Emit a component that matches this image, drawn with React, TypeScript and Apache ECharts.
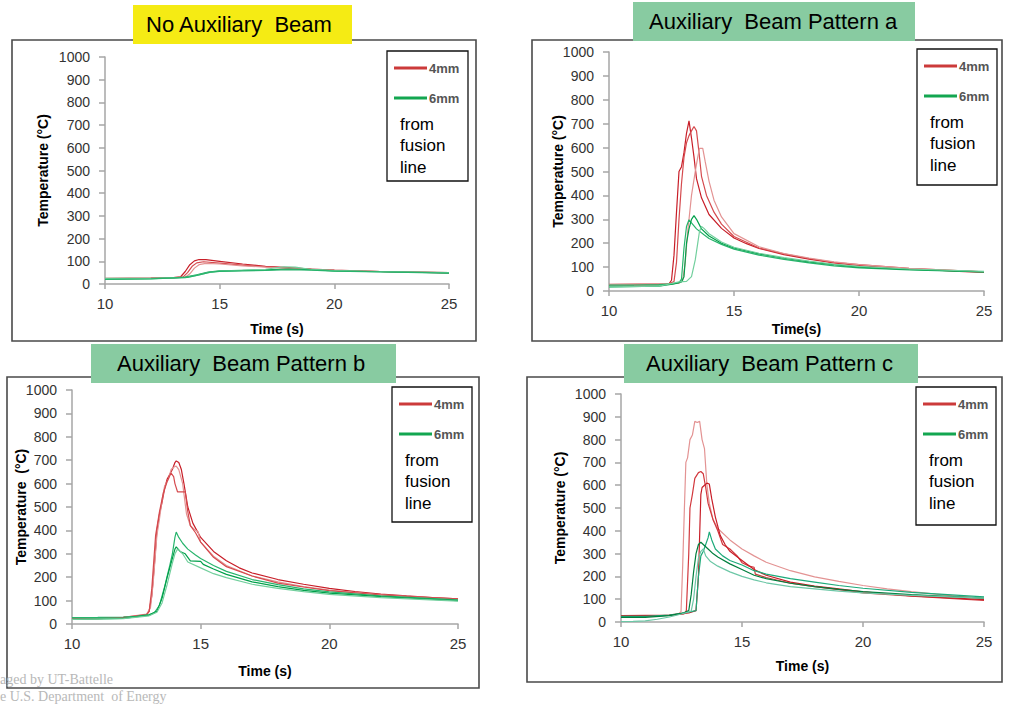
import React, { useEffect, useRef } from "react";
import * as echarts from "echarts";

// ---------- Data: [time (s), temperature (°C)] ----------
// Panel 1: No Auxiliary Beam
const noAux4mmA = [[10,24],[11,25],[12,26],[13,28],[13.3,32],[13.5,55],[13.7,85],[13.9,102],[14.1,108],[14.4,107],[15,100],[16,88],[17,78],[18,72],[19,66],[20,61],[21,58],[22,55],[23,53],[24,51],[25,49]];
const noAux4mmB = [[10,25],[12,26],[13,28],[13.4,30],[13.6,50],[13.8,78],[14.0,93],[14.3,98],[15,92],[16,83],[17,76],[18,70],[19,65],[20,60],[22,55],[25,50]];
const noAux4mmC = [[10,23],[12,25],[13,28],[13.5,30],[13.7,45],[13.9,70],[14.1,85],[14.4,91],[15,88],[16,80],[17,74],[18,69],[19,64],[20,60],[22,55],[25,50]];
const noAux6mmA = [[10,22],[12,24],[13,27],[13.5,30],[14,40],[14.5,52],[15,58],[16,60],[17,62],[18,66],[19,63],[20,58],[22,54],[25,49]];
const noAux6mmB = [[10,25],[12,25],[13.5,28],[14,38],[14.5,50],[15,57],[16,60],[17,65],[17.8,76],[18.3,74],[19,64],[20,59],[22,55],[25,50]];
const noAux6mmC = [[10,20],[12,23],[13.6,29],[14.1,40],[14.6,52],[15,56],[16,58],[17,60],[18,63],[19,61],[20,57],[22,53],[25,48]];

// Panel 2: Auxiliary Beam Pattern a
const patA4mmA = [[10,26],[11,26],[12,27],[12.4,30],[12.5,45],[12.6,150],[12.7,330],[12.8,500],[12.9,520],[13.0,580],[13.1,660],[13.2,712],[13.3,640],[13.4,560],[13.5,470],[13.7,390],[14,320],[14.5,262],[15,222],[15.5,198],[16,178],[17,152],[18,133],[19,118],[20,107],[21,99],[22,93],[23,88],[24,82],[25,78]];
const patA4mmB = [[10,28],[12.4,30],[12.6,40],[12.7,120],[12.8,300],[12.9,450],[13.0,560],[13.1,620],[13.2,650],[13.3,670],[13.4,688],[13.5,670],[13.6,580],[13.7,480],[13.9,400],[14.2,330],[14.5,280],[15,228],[16,180],[17,155],[18,136],[19,120],[20,110],[22,95],[25,80]];
const patA4mmC = [[10,27],[12.8,32],[12.95,45],[13.05,120],[13.15,250],[13.3,400],[13.45,500],[13.55,560],[13.62,597],[13.75,597],[13.85,540],[14.0,460],[14.2,380],[14.5,310],[15,240],[16,185],[17,157],[18,138],[19,122],[20,110],[22,95],[25,80]];
const patA6mmA = [[10,25],[11,25],[12,27],[12.5,30],[12.8,35],[12.9,50],[13.0,180],[13.1,270],[13.2,298],[13.3,285],[13.5,260],[13.8,235],[14,220],[14.5,195],[15,175],[16,150],[17,132],[18,118],[19,105],[20,97],[22,88],[25,80]];
const patA6mmB = [[10,17],[12,20],[12.6,30],[12.9,38],[13.0,60],[13.1,200],[13.2,260],[13.3,300],[13.4,315],[13.5,300],[13.7,260],[14,230],[14.5,200],[15,180],[16,155],[17,137],[18,122],[19,110],[20,100],[22,90],[25,80]];
const patA6mmC = [[10,17],[12,20],[12.8,38],[13.1,40],[13.3,60],[13.45,130],[13.55,200],[13.62,250],[13.7,270],[13.8,262],[14,240],[14.5,205],[15,183],[16,158],[17,140],[18,125],[19,112],[20,103],[22,92],[25,82]];

// Panel 3: Auxiliary Beam Pattern b
const patB4mmA = [[10,22],[11,23],[11.5,25],[12,28],[12.5,32],[12.9,40],[13.0,55],[13.1,120],[13.2,250],[13.3,400],[13.4,470],[13.5,520],[13.6,580],[13.7,620],[13.8,640],[13.9,660],[14.0,690],[14.05,697],[14.15,690],[14.25,660],[14.35,600],[14.5,500],[14.7,430],[15,370],[15.5,310],[16,270],[16.5,240],[17,218],[18,190],[19,170],[20,152],[21,138],[22,128],[23,120],[24,113],[25,108]];
const patB4mmB = [[10,25],[12,28],[12.9,42],[13.05,70],[13.15,170],[13.3,380],[13.4,450],[13.5,530],[13.6,590],[13.75,620],[13.85,660],[13.95,670],[14.05,675],[14.15,660],[14.3,600],[14.45,470],[14.6,420],[14.8,400],[14.9,395],[15,350],[15.5,290],[16,250],[17,205],[18,180],[19,160],[20,145],[22,125],[25,105]];
const patB4mmC = [[10,25],[12,28],[12.9,40],[13.0,55],[13.1,150],[13.25,380],[13.4,480],[13.55,560],[13.7,610],[13.85,645],[13.95,630],[14.0,600],[14.1,565],[14.4,565],[14.5,480],[14.6,420],[14.8,390],[15,350],[15.5,285],[16,245],[17,205],[18,175],[19,158],[20,143],[22,124],[25,108]];
const patB6mmA = [[10,27],[11,28],[12,30],[12.5,33],[13,40],[13.2,48],[13.4,80],[13.6,160],[13.8,250],[13.9,300],[14.0,370],[14.05,393],[14.15,370],[14.3,345],[14.5,320],[14.8,295],[15,280],[15.5,250],[16,225],[17,190],[18,168],[19,150],[20,137],[22,120],[25,103]];
const patB6mmB = [[10,20],[12,24],[13,38],[13.3,55],[13.5,110],[13.7,200],[13.9,280],[14.0,320],[14.05,330],[14.2,310],[14.4,300],[14.6,270],[15,268],[15.1,255],[15.5,235],[16,212],[17,180],[18,160],[19,144],[20,132],[22,117],[25,100]];
const patB6mmC = [[10,20],[12,23],[13,35],[13.3,50],[13.5,90],[13.7,170],[13.9,260],[14.0,300],[14.1,320],[14.3,300],[14.5,265],[15,240],[15.5,215],[16,198],[17,170],[18,152],[19,138],[20,127],[22,113],[25,98]];

// Panel 4: Auxiliary Beam Pattern c
const patC4mmA = [[10,22],[11,23],[12,30],[12.4,38],[12.48,45],[12.55,250],[12.62,500],[12.68,700],[12.75,720],[12.85,800],[12.95,820],[13.05,880],[13.15,875],[13.25,880],[13.35,800],[13.45,760],[13.55,600],[13.65,520],[13.8,450],[14,410],[14.5,360],[15,320],[15.5,290],[16,262],[17,225],[18,198],[19,178],[20,160],[21,145],[22,133],[23,122],[24,112],[25,103]];
const patC4mmB = [[10,28],[12,30],[12.6,35],[12.7,50],[12.8,300],[12.85,500],[12.95,560],[13.05,630],[13.2,655],[13.3,660],[13.4,650],[13.5,590],[13.6,520],[13.8,450],[14,400],[14.2,340],[14.5,320],[14.8,290],[15,260],[15.3,245],[15.5,240],[15.55,210],[16,195],[17,170],[18,155],[19,142],[20,128],[22,113],[25,95]];
const patC4mmC = [[10,26],[12,29],[12.8,40],[13.1,50],[13.2,200],[13.3,560],[13.35,590],[13.45,600],[13.55,609],[13.65,605],[13.75,540],[13.9,460],[14.1,380],[14.3,340],[14.5,310],[15,270],[15.5,230],[16,205],[17,175],[18,158],[19,145],[20,132],[22,115],[25,98]];
const patC6mmA = [[10,25],[11,25],[12,30],[12.5,38],[13.0,48],[13.1,50],[13.2,200],[13.3,290],[13.4,310],[13.5,340],[13.6,370],[13.65,395],[13.75,360],[13.9,320],[14.2,290],[14.5,270],[15,250],[15.5,225],[16,210],[17,190],[18,175],[19,160],[20,148],[22,130],[25,110]];
const patC6mmB = [[10,20],[11,20],[12,28],[12.6,40],[12.8,50],[12.9,120],[13.0,220],[13.1,300],[13.2,340],[13.3,350],[13.4,340],[13.6,320],[13.8,300],[14,285],[14.5,255],[15,230],[15.5,205],[16,190],[17,170],[18,155],[19,143],[20,133],[22,120],[25,105]];
const patC6mmC = [[10,2],[10.5,3],[11,5],[11.5,12],[12,22],[12.5,35],[12.9,48],[13.0,100],[13.1,200],[13.2,280],[13.3,310],[13.4,320],[13.5,290],[13.7,265],[14,245],[14.5,220],[15,200],[15.5,185],[16,172],[17,155],[18,145],[19,135],[20,128],[22,117],[25,105]];

const xTicks = { min: 10, max: 25, interval: 5 };
const yTicks = { min: 0, max: 1000, interval: 100 };
const panelTitles = ["No Auxiliary  Beam", "Auxiliary  Beam Pattern a", "Auxiliary  Beam Pattern b", "Auxiliary  Beam Pattern c"];
const xNames = ["Time (s)", "Time(s)", "Time (s)", "Time (s)"];
const yNames = ["Temperature (°C)", "Temperature (°C)", "Temperature  (°C)", "Temperature (°C)"];
const legendLabels = ["4mm", "6mm"];
const legendNote = ["from", "fusion", "line"];

const FONT = "'Liberation Sans', Arial, sans-serif";

// layout
const grids = [
  { left: 105, top: 57, width: 344, height: 227 },
  { left: 609, top: 52, width: 375, height: 239 },
  { left: 72, top: 390, width: 386, height: 234 },
  { left: 621, top: 394, width: 363, height: 228 },
];
const frames = [
  { x: 12, y: 40, w: 464, h: 301 },
  { x: 532, y: 40, w: 470, h: 301 },
  { x: 7, y: 377, w: 472, h: 311 },
  { x: 527, y: 377, w: 475, h: 305 },
];
const titleBoxes = [
  { x: 133, y: 5, w: 219, h: 39, fill: "#F5EB14", tx: 146 },
  { x: 633, y: 2, w: 282, h: 39, fill: "#88CBA1", tx: 649 },
  { x: 91, y: 344, w: 305, h: 39, fill: "#88CBA1", tx: 117 },
  { x: 624, y: 344, w: 294, h: 39, fill: "#88CBA1", tx: 646 },
];
const legendBoxes = [
  { x: 387, y: 51, w: 81, h: 130 },
  { x: 917, y: 49, w: 80, h: 136 },
  { x: 392, y: 387, w: 80, h: 135 },
  { x: 916, y: 387, w: 80, h: 138 },
];
const yNameGaps = [55, 44, 44, 54];
const xNameGaps = [38, 31, 40, 37];

// colours per panel: [4mm A, 4mm B, 4mm C], [6mm A, 6mm B, 6mm C]
const redColors = [
  ["#C81E28", "#D54A4E", "#E39393"],
  ["#C81E28", "#D54A4E", "#E39393"],
  ["#C81E28", "#E39393", "#D54A4E"],
  ["#E39393", "#D2383D", "#C81E28"],
];
const greenColors = [
  ["#00A04A", "#72CF9D", "#27B46C"],
  ["#27B46C", "#00A04A", "#72CF9D"],
  ["#27B46C", "#00A04A", "#72CF9D"],
  ["#1CAA7A", "#007F3E", "#6CC7A6"],
];

export default function App() {
  const ref = useRef<HTMLDivElement>(null);
  useEffect(() => {
    if (!ref.current) return;
    const chart = echarts.init(ref.current, null, { renderer: "svg" });

    const xAxis = grids.map((_, i) => ({
      type: "value",
      gridIndex: i,
      ...xTicks,
      name: xNames[i],
      nameLocation: "middle",
      nameGap: xNameGaps[i],
      nameMoveOverlap: false,
      nameTextStyle: { fontWeight: "bold", fontSize: 14, color: "#000", fontFamily: FONT },
      axisLine: { show: true, onZero: false, lineStyle: { color: "#A6A6A6", width: 1.5 } },
      axisTick: { show: true, length: 5, lineStyle: { color: "#A6A6A6", width: 1.5 } },
      axisLabel: { fontSize: 15, color: "#333", margin: 12, fontFamily: FONT, formatter: (v: number) => String(v) },
      splitLine: { show: false },
    }));
    const yAxis = grids.map((_, i) => ({
      type: "value",
      gridIndex: i,
      ...yTicks,
      name: yNames[i],
      nameLocation: "middle",
      nameGap: yNameGaps[i],
      nameMoveOverlap: false,
      nameTextStyle: { fontWeight: "bold", fontSize: 14, color: "#000", fontFamily: FONT },
      axisLine: { show: true, onZero: false, lineStyle: { color: "#A6A6A6", width: 1.5 } },
      axisTick: { show: true, length: 6, lineStyle: { color: "#A6A6A6", width: 1.5 } },
      axisLabel: { fontSize: 14, color: "#333", margin: 15, fontFamily: FONT, formatter: (v: number) => String(v) },
      splitLine: { show: false },
    }));

    const panels = [
      { reds: [noAux4mmA, noAux4mmB, noAux4mmC], greens: [noAux6mmA, noAux6mmB, noAux6mmC] },
      { reds: [patA4mmA, patA4mmB, patA4mmC], greens: [patA6mmA, patA6mmB, patA6mmC] },
      { reds: [patB4mmA, patB4mmB, patB4mmC], greens: [patB6mmA, patB6mmB, patB6mmC] },
      { reds: [patC4mmA, patC4mmB, patC4mmC], greens: [patC6mmA, patC6mmB, patC6mmC] },
    ];
    const series: any[] = [];
    panels.forEach((p, i) => {
      p.reds.forEach((d, k) =>
        series.push({ type: "line", xAxisIndex: i, yAxisIndex: i, data: d, showSymbol: false, symbol: "none", silent: true, lineStyle: { color: redColors[i][k], width: 1.2 } })
      );
      p.greens.forEach((d, k) =>
        series.push({ type: "line", xAxisIndex: i, yAxisIndex: i, data: d, showSymbol: false, symbol: "none", silent: true, lineStyle: { color: greenColors[i][k], width: 1.2 } })
      );
    });

    const graphic: any[] = [];
    frames.forEach((f) =>
      graphic.push({ type: "rect", shape: { x: f.x, y: f.y, width: f.w, height: f.h }, style: { fill: "none", stroke: "#4A4A4A", lineWidth: 1.6 }, z: 1 })
    );
    titleBoxes.forEach((b, i) => {
      graphic.push({ type: "rect", shape: { x: b.x, y: b.y, width: b.w, height: b.h }, style: { fill: b.fill }, z: 5 });
      graphic.push({ type: "text", x: b.tx, y: b.y + b.h / 2, style: { text: panelTitles[i], fill: "#000", font: `22px ${FONT}`, verticalAlign: "middle" }, z: 6 });
    });
    legendBoxes.forEach((b) => {
      graphic.push({ type: "rect", shape: { x: b.x, y: b.y, width: b.w, height: b.h }, style: { fill: "#fff", stroke: "#111", lineWidth: 1.3 }, z: 5 });
      graphic.push({ type: "line", shape: { x1: b.x + 7, y1: b.y + 17, x2: b.x + 40, y2: b.y + 17 }, style: { stroke: "#CC3A3A", lineWidth: 3 }, z: 6 });
      graphic.push({ type: "line", shape: { x1: b.x + 7, y1: b.y + 47, x2: b.x + 40, y2: b.y + 47 }, style: { stroke: "#13A650", lineWidth: 3 }, z: 6 });
      graphic.push({ type: "text", x: b.x + 42, y: b.y + 17, style: { text: legendLabels[0], fill: "#555", font: `bold 13px ${FONT}`, verticalAlign: "middle" }, z: 6 });
      graphic.push({ type: "text", x: b.x + 42, y: b.y + 47, style: { text: legendLabels[1], fill: "#555", font: `bold 13px ${FONT}`, verticalAlign: "middle" }, z: 6 });
      legendNote.forEach((t, k) =>
        graphic.push({ type: "text", x: b.x + 13, y: b.y + 73 + k * 21.5, style: { text: t, fill: "#000", font: `17px ${FONT}`, verticalAlign: "middle" }, z: 6 })
      );
    });
    graphic.push({ type: "text", x: 0, y: 679, style: { text: "aged by UT-Battelle", fill: "#B8B8B8", font: "14px 'Liberation Serif', serif", verticalAlign: "middle" }, z: 7 });
    graphic.push({ type: "text", x: 0, y: 696, style: { text: "e U.S. Department  of Energy", fill: "#B8B8B8", font: "14px 'Liberation Serif', serif", verticalAlign: "middle" }, z: 7 });

    chart.setOption({
      animation: false,
      backgroundColor: "#fff",
      grid: grids.map((g) => ({ ...g, containLabel: false })),
      xAxis,
      yAxis,
      series,
      graphic,
    });
    return () => chart.dispose();
  }, []);
  return <div ref={ref} style={{ position: "absolute", left: 0, top: 0, width: 1013, height: 707, background: "#fff" }} />;
}
